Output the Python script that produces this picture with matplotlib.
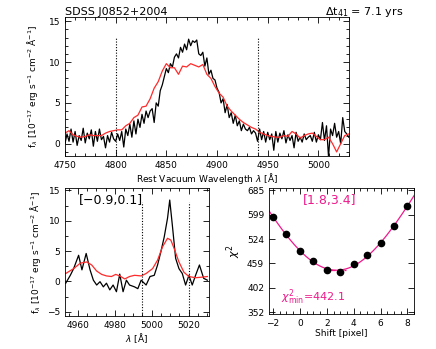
import numpy as np
import matplotlib.pyplot as plt
from matplotlib.ticker import MultipleLocator, NullLocator

# top panel: broad Hbeta, 2 A grid
wave_top = np.arange(4750, 5031, 2)
flux_top = [0.0, 1.2, 0.3, 1.8, 0.2, 1.5, -0.2, 1.0, 0.4, 1.9,
            0.1, 1.3, 0.6, 1.7, -0.3, 1.5, 0.3, 1.8, 0.5, 0.9,
            -0.5, 1.0, 0.2, 1.4, 0.6, 0.3, 1.2, 0.4, 1.5, -0.4,
            1.8, 1.0, 2.4, 0.8, 2.8, 1.2, 3.0, 2.0, 3.6, 2.5,
            4.0, 3.2, 4.0, 4.3, 2.6, 5.0, 4.6, 6.5, 7.2, 8.2,
            9.2, 8.7, 9.8, 9.4, 10.6, 11.0, 10.5, 11.8, 11.2, 12.2,
            11.5, 12.8, 12.0, 12.6, 12.4, 12.7, 11.0, 10.8, 11.2, 9.5,
            10.5, 8.5, 9.0, 8.0, 7.8, 6.8, 6.3, 5.0, 5.5, 3.8,
            4.8, 3.2, 3.8, 2.5, 3.5, 2.2, 2.8, 1.6, 2.4, 1.8,
            1.6, 2.0, 1.2, 1.6, 1.3, 0.3, 1.8, 0.5, 1.5, 0.2,
            1.4, 0.5, 1.2, -0.8, 1.5, 0.2, 1.3, 0.6, 1.6, 0.1,
            1.1, 0.4, 1.0, -0.5, 1.4, 0.3, 0.8, 0.2, 1.2, 0.5,
            0.8, 1.0, 0.3, 1.4, 0.2, 1.1, 0.5, 2.6, 0.4, 2.2,
            -1.6, 1.8, 1.0, 2.5, 0.8, 1.5, 0.0, 3.2, 1.5, 1.2,
            0.8]
wave_top_red = np.arange(4750, 5031, 4)
flux_top_red = [1.3, 1.6, 1.1, 0.9, 0.8, 0.9, 1.1, 1.0, 1.0, 1.0,
                1.3, 1.5, 1.6, 1.7, 1.7, 2.2, 2.5, 3.2, 3.5, 4.5,
                4.6, 5.5, 6.8, 7.6, 8.9, 9.8, 9.3, 9.3, 8.5, 9.5,
                9.4, 9.8, 9.6, 9.4, 9.7, 8.5, 8.0, 7.0, 6.2, 5.7,
                4.6, 4.0, 3.5, 3.0, 2.6, 2.3, 2.0, 1.8, 1.4, 1.2,
                1.0, 0.9, 0.8, 0.8, 1.0, 0.9, 1.5, 1.2, 0.7, 1.0,
                1.2, 1.3, 0.9, 0.5, 0.5, 0.8, 0.0, -1.0, 0.0, 1.0,
                1.2]

# bottom left: [OIII] region
wave_bl = [4953.4, 4955.9, 4957.7, 4960.4, 4962.2, 4964.5, 4966.6, 4968.4,
           4970.2, 4972.0, 4973.8, 4975.5, 4977.3, 4979.1, 4980.9, 4982.7,
           4984.5, 4986.3, 4988.0, 4990.7, 4992.5, 4994.3, 4997.0, 4999.1,
           5001.4, 5003.2, 5005.0, 5006.8, 5008.6, 5009.8, 5011.2, 5013.0,
           5014.8, 5016.6, 5018.4, 5020.2, 5022.0, 5023.8, 5025.9, 5028.2,
           5030.2]
flux_bl = [-0.3, 1.0, 2.1, 4.3, 1.9, 4.6, 1.9, 0.2,
           -0.6, -0.05, -0.9, -0.3, -1.4, -0.6, -1.7, 1.2,
           -1.7, 0.2, -0.6, -0.9, -1.2, 0.2, -0.6, 0.8,
           1.0, 2.7, 4.9, 7.3, 10.4, 13.4, 9.3, 3.8,
           2.1, 1.3, -0.6, 1.0, -0.6, 1.0, 2.7, 0.5,
           0.2]
wave_bl_red = [4953.4, 4957.7, 4961.3, 4964.8, 4967.5, 4970.2, 4972.9, 4975.5,
               4978.2, 4980.5, 4982.7, 4985.4, 4988.0, 4990.7, 4994.3, 4997.0,
               5000.5, 5003.2, 5005.9, 5008.6, 5010.4, 5012.2, 5014.8, 5017.5,
               5020.2, 5023.8, 5027.4, 5030.2]
flux_bl_red = [1.3, 2.1, 3.0, 3.2, 2.7, 1.7, 1.15, 0.9,
               0.8, 1.15, 0.9, 0.4, 0.8, 1.0, 0.9, 1.3,
               2.1, 3.5, 5.7, 7.1, 6.8, 5.4, 3.2, 1.5,
               0.8, 0.6, 0.7, 0.8]

# bottom right: chi2 vs shift
shift = [-2, -1, 0, 1, 2, 3, 4, 5, 6, 7, 8]
chi2 = [591, 538, 492, 464, 443, 438, 458, 480, 513, 562, 630]
chi2_ticks = [352, 402, 459, 524, 599, 685]

pink = '#ee1a8c'
red = '#ff2a2a'
fs = 6.5

plt.rcParams['font.family'] = 'DejaVu Sans'
plt.rcParams['font.size'] = fs

fig = plt.figure(figsize=(4.36, 3.49), dpi=100)

def style(ax):
    ax.tick_params(which='both', direction='in', top=True, right=True, labelsize=fs)
    ax.tick_params(which='major', length=4, width=0.6)
    ax.tick_params(which='minor', length=2, width=0.6)
    for s in ax.spines.values():
        s.set_linewidth(0.6)

ax1 = fig.add_axes([0.149, 0.553, 0.651, 0.398])
ax1.plot(wave_top, flux_top, color='black', lw=0.9)
ax1.plot(wave_top_red, flux_top_red, color=red, lw=0.9)
ax1.vlines([4800, 4940], -1.5, 12.9, colors='black', linestyles=(0, (1, 1.5)), lw=0.8)
ax1.set_xlim(4750, 5030)
ax1.set_ylim(-1.5, 15.5)
ax1.xaxis.set_major_locator(MultipleLocator(50))
ax1.xaxis.set_minor_locator(MultipleLocator(10))
ax1.yaxis.set_major_locator(MultipleLocator(5))
ax1.yaxis.set_minor_locator(MultipleLocator(1))
style(ax1)
ax1.set_xlabel(r'Rest Vacuum Wavelength $\lambda$ [$\rm\AA$]', fontsize=fs, labelpad=1)
ax1.set_ylabel(r'f$_\lambda$ [10$^{-17}$ erg s$^{-1}$ cm$^{-2}$ $\rm\AA^{-1}$]', fontsize=fs, labelpad=6)
fig.text(0.149, 0.958, 'SDSS J0852+2004', fontsize=8, ha='left', va='baseline')
fig.text(0.925, 0.958, r'$\Delta$t$_{41}$ = 7.1 yrs', fontsize=8, ha='right', va='baseline')

ax2 = fig.add_axes([0.149, 0.0946, 0.330, 0.367])
ax2.plot(wave_bl, flux_bl, color='black', lw=0.9)
ax2.plot(wave_bl_red, flux_bl_red, color=red, lw=0.9)
ax2.vlines([4995, 5020], -5.7, 13.1, colors='black', linestyles=(0, (1, 1.5)), lw=0.8)
ax2.set_xlim(4953, 5031)
ax2.set_ylim(-5.7, 15.4)
ax2.xaxis.set_major_locator(MultipleLocator(20))
ax2.xaxis.set_minor_locator(MultipleLocator(5))
ax2.yaxis.set_major_locator(MultipleLocator(5))
ax2.yaxis.set_minor_locator(MultipleLocator(2.5))
style(ax2)
ax2.set_xlabel(r'$\lambda$ [$\rm\AA$]', fontsize=fs, labelpad=1)
ax2.set_ylabel(r'f$_\lambda$ [10$^{-17}$ erg s$^{-1}$ cm$^{-2}$ $\rm\AA^{-1}$]', fontsize=fs, labelpad=3)
ax2.text(0.1, 0.9, '[\u22120.9,0.1]', transform=ax2.transAxes, fontsize=9, va='center')

ax3 = fig.add_axes([0.617, 0.100, 0.333, 0.361])
coef = np.polyfit(shift, chi2, 2)
xs = np.linspace(-2.3, 8.5, 200)
ax3.plot(xs, np.polyval(coef, xs), color=pink, lw=0.9)
ax3.hlines(443.1, 1.8, 3.4, colors=pink, linestyles='--', lw=0.9)
ax3.plot(shift, chi2, 'o', color='black', ms=4.5)
ax3.set_yscale('log')
ax3.set_xlim(-2.3, 8.5)
ax3.set_ylim(348, 693)
ax3.set_yticks(chi2_ticks)
ax3.set_yticklabels([str(t) for t in chi2_ticks])
ax3.yaxis.set_minor_locator(NullLocator())
ax3.xaxis.set_major_locator(MultipleLocator(2))
ax3.xaxis.set_minor_locator(MultipleLocator(0.5))
style(ax3)
ax3.set_xlabel('Shift [pixel]', fontsize=fs, labelpad=1)
ax3.set_ylabel(r'$\chi^2$', fontsize=fs + 1.5, labelpad=3)
ax3.text(0.42, 0.9, '[1.8,3.4]', transform=ax3.transAxes, fontsize=9, color=pink, ha='center', va='center')
ax3.text(0.08, 0.06, r'$\chi^2_{\rm min}$=442.1', transform=ax3.transAxes, fontsize=8, color=pink, ha='left', va='bottom')

fig.savefig('out.png', dpi=100)
